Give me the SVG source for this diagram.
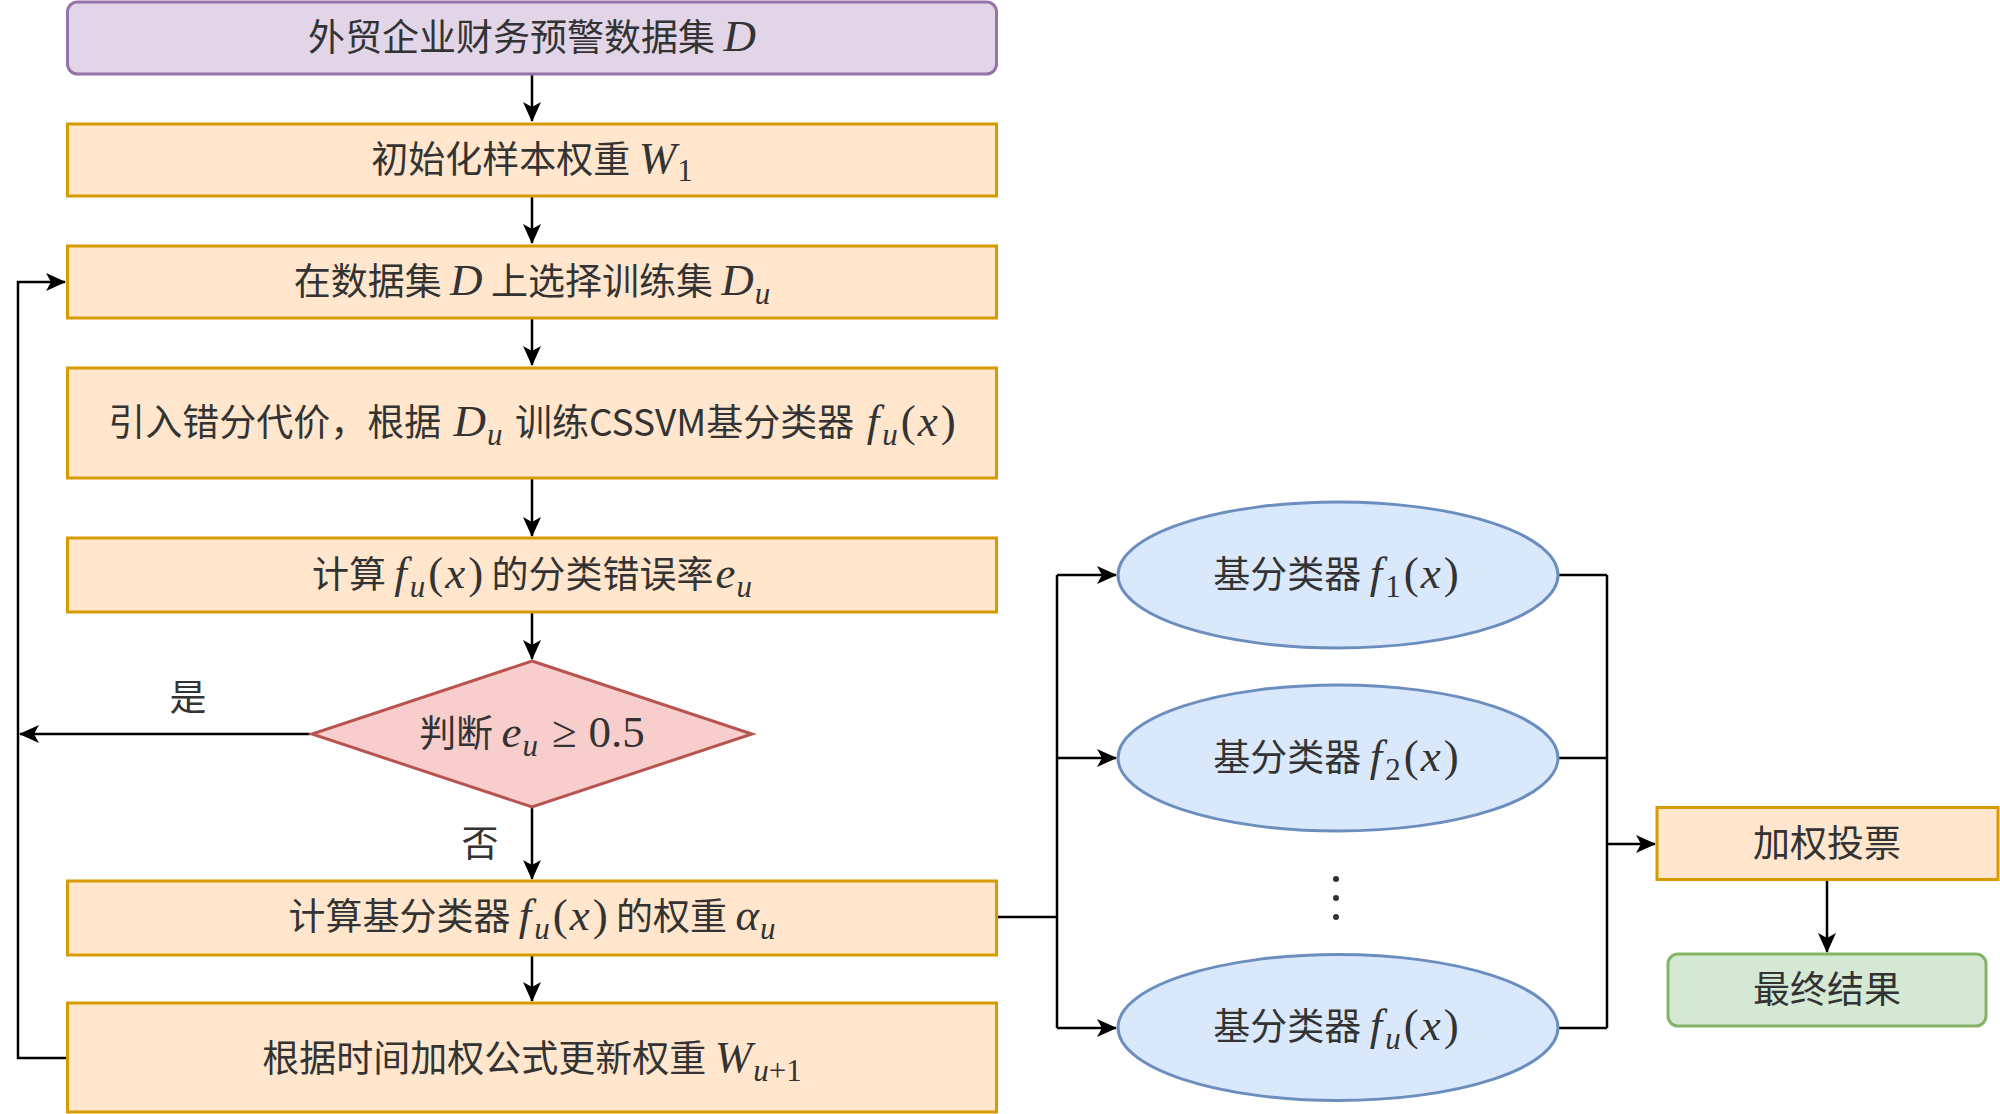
<svg xmlns="http://www.w3.org/2000/svg" width="2000" height="1114" viewBox="0 0 2000 1114">
<defs>
<marker id="arr" markerUnits="userSpaceOnUse" markerWidth="22" markerHeight="20" refX="19" refY="9" orient="auto">
<path d="M0,0 L20,9 L0,18 L5,9 Z" fill="#000"/>
</marker>
<style>
.box{fill:#ffe6cc;stroke:#d79b00;stroke-width:3}
.ell{fill:#dae8fc;stroke:#6c8ebf;stroke-width:3}
.t{font-family:'Noto Sans CJK SC','Noto Sans',sans-serif;font-size:37px;fill:#333;text-anchor:middle}
.m{font-family:'Liberation Serif',serif;font-style:italic;font-size:45px}
.r{font-family:'Liberation Serif',serif;font-style:normal;font-size:45px}
.s{font-family:'Liberation Serif',serif;font-style:italic;font-size:31px}
.sr{font-family:'Liberation Serif',serif;font-style:normal;font-size:31px}
.c{fill:none;stroke:#000;stroke-width:2.5}
</style>
</defs>
<g id="connectors">
<path class="c" d="M532,74 V121" marker-end="url(#arr)"/>
<path class="c" d="M532,196 V243" marker-end="url(#arr)"/>
<path class="c" d="M532,319 V365" marker-end="url(#arr)"/>
<path class="c" d="M532,478 V536" marker-end="url(#arr)"/>
<path class="c" d="M532,612 V659" marker-end="url(#arr)"/>
<path class="c" d="M532,807 V879" marker-end="url(#arr)"/>
<path class="c" d="M532,955 V1001" marker-end="url(#arr)"/>
<path class="c" d="M310,734 H20" marker-end="url(#arr)"/>
<path class="c" d="M67,1058 H18 V282 H65" marker-end="url(#arr)"/>
<path class="c" d="M996,917 H1057"/>
<path class="c" d="M1057,575 V1028"/>
<path class="c" d="M1057,575 H1116" marker-end="url(#arr)"/>
<path class="c" d="M1057,758 H1116" marker-end="url(#arr)"/>
<path class="c" d="M1057,1028 H1116" marker-end="url(#arr)"/>
<path class="c" d="M1559,575 H1607 M1559,758 H1607 M1559,1028 H1607 M1607,575 V1028"/>
<path class="c" d="M1607,844 H1655" marker-end="url(#arr)"/>
<path class="c" d="M1827,880 V952" marker-end="url(#arr)"/>
<text class="t" x="188" y="711">是</text>
<text class="t" x="480" y="857">否</text>
</g>
<g id="n1">
<rect x="67.5" y="2" width="929" height="72" rx="10" fill="#e1d5e7" stroke="#9673a6" stroke-width="3"/>
<text class="t" x="532" y="51">外贸企业财务预警数据集 <tspan class="m">D</tspan></text>
</g>
<g id="n2">
<rect class="box" x="67.5" y="124" width="929" height="72"/>
<text class="t" x="532" y="173">初始化样本权重 <tspan class="m">W</tspan><tspan class="sr" dy="8" dx="1">1</tspan></text>
</g>
<g id="n3">
<rect class="box" x="67.5" y="246" width="929" height="72"/>
<text class="t" x="532" y="295">在数据集 <tspan class="m">D</tspan> 上选择训练集 <tspan class="m">D</tspan><tspan class="s" dy="9" dx="1">u</tspan></text>
</g>
<g id="n4">
<rect class="box" x="67.5" y="368" width="929" height="110"/>
<text class="t" x="532" y="436">引入错分代价，根据 <tspan class="m" dx="4">D</tspan><tspan class="s" dy="9" dx="1">u</tspan><tspan dy="-9" dx="4"> 训练CSSVM基分类器 </tspan><tspan class="m" dx="4">f</tspan><tspan class="s" dy="9" dx="3">u</tspan><tspan class="r" dy="-9" dx="3">(</tspan><tspan class="m" dx="2">x</tspan><tspan class="r" dx="3">)</tspan></text>
</g>
<g id="n5">
<rect class="box" x="67.5" y="538" width="929" height="74"/>
<text class="t" x="532" y="588">计算 <tspan class="m">f</tspan><tspan class="s" dy="9" dx="3">u</tspan><tspan class="r" dy="-9" dx="3">(</tspan><tspan class="m" dx="2">x</tspan><tspan class="r" dx="3">)</tspan> 的分类错误率<tspan class="m" dx="2">e</tspan><tspan class="s" dy="9" dx="1">u</tspan></text>
</g>
<g id="n6">
<polygon points="532,661 752,734 532,807 312,734" fill="#f8cecc" stroke="#b85450" stroke-width="3"/>
<text class="t" x="532" y="747">判断 <tspan class="m">e</tspan><tspan class="s" dy="9" dx="1">u</tspan><tspan class="r" dy="-9" dx="14">≥</tspan><tspan class="r" dx="12">0.5</tspan></text>
</g>
<g id="n7">
<rect class="box" x="67.5" y="881" width="929" height="74"/>
<text class="t" x="532" y="930">计算基分类器 <tspan class="m">f</tspan><tspan class="s" dy="9" dx="3">u</tspan><tspan class="r" dy="-9" dx="3">(</tspan><tspan class="m" dx="2">x</tspan><tspan class="r" dx="3">)</tspan> 的权重 <tspan class="m">α</tspan><tspan class="s" dy="9" dx="1">u</tspan></text>
</g>
<g id="n8">
<rect class="box" x="67.5" y="1003" width="929" height="109"/>
<text class="t" x="532" y="1072">根据时间加权公式更新权重 <tspan class="m">W</tspan><tspan class="s" dy="9" dx="1">u</tspan><tspan class="sr">+1</tspan></text>
</g>
<g id="e1">
<ellipse class="ell" cx="1338" cy="575" rx="220" ry="73"/>
<text class="t" x="1336" y="588">基分类器 <tspan class="m">f</tspan><tspan class="sr" dy="9" dx="3">1</tspan><tspan class="r" dy="-9" dx="3">(</tspan><tspan class="m" dx="2">x</tspan><tspan class="r" dx="3">)</tspan></text>
</g>
<g id="e2">
<ellipse class="ell" cx="1338" cy="758" rx="220" ry="73"/>
<text class="t" x="1336" y="771">基分类器 <tspan class="m">f</tspan><tspan class="sr" dy="9" dx="3">2</tspan><tspan class="r" dy="-9" dx="3">(</tspan><tspan class="m" dx="2">x</tspan><tspan class="r" dx="3">)</tspan></text>
</g>
<g id="dots">
<circle cx="1336" cy="879" r="3" fill="#333"/>
<circle cx="1336" cy="898" r="3" fill="#333"/>
<circle cx="1336" cy="917" r="3" fill="#333"/>
</g>
<g id="eu">
<ellipse class="ell" cx="1338" cy="1027.5" rx="220" ry="73"/>
<text class="t" x="1336" y="1040">基分类器 <tspan class="m">f</tspan><tspan class="s" dy="9" dx="3">u</tspan><tspan class="r" dy="-9" dx="3">(</tspan><tspan class="m" dx="2">x</tspan><tspan class="r" dx="3">)</tspan></text>
</g>
<g id="vote">
<rect class="box" x="1657" y="807.5" width="341" height="72"/>
<text class="t" x="1827" y="857">加权投票</text>
</g>
<g id="result">
<rect x="1668" y="954" width="318" height="72" rx="10" fill="#d5e8d4" stroke="#82b366" stroke-width="3"/>
<text class="t" x="1827" y="1003">最终结果</text>
</g>
</svg>
